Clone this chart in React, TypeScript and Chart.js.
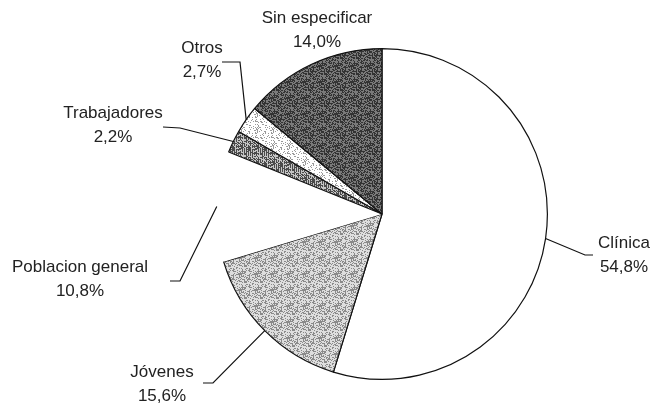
import React, { useEffect, useRef } from "react";
import { Chart, registerables } from "chart.js";

Chart.register(...registerables);

const categories = ["Clínica", "Jóvenes", "Poblacion general", "Trabajadores", "Otros", "Sin especificar"];
const values = [54.8, 15.6, 10.8, 2.2, 2.7, 14.0];
const valueLabels = ["54,8%", "15,6%", "10,8%", "2,2%", "2,7%", "14,0%"];

// label layout: text centre x, first line y, optional elbow + end of leader line
const labelLayout = [
  { tx: 624, ty: 243, elbow: [585, 255], end: [593, 255] },
  { tx: 162, ty: 372, elbow: [213, 383], end: [203, 383] },
  { tx: 80, ty: 267, elbow: [180, 281], end: [170, 281] },
  { tx: 113, ty: 113, elbow: [180, 128], end: [163, 127] },
  { tx: 202, ty: 48, elbow: [240, 62], end: [222, 62] },
  { tx: 317, ty: 18, elbow: null, end: null },
];

function hash(x: number, y: number) {
  let h = (x * 374761393 + y * 668265263) | 0;
  h = (h ^ (h >>> 13)) * 1274126177;
  h = h ^ (h >>> 16);
  return ((h >>> 0) % 1000) / 1000;
}

function makeNoise(size: number, light: string, dark: string, density: number, stripe = 0) {
  const c = document.createElement("canvas");
  c.width = size;
  c.height = size;
  const ctx = c.getContext("2d")!;
  ctx.fillStyle = light;
  ctx.fillRect(0, 0, size, size);
  ctx.fillStyle = dark;
  for (let y = 0; y < size; y++)
    for (let x = 0; x < size; x++) {
      let d = density;
      if (stripe) d = x % stripe === 0 ? 0.85 : density;
      if (hash(x, y) < d) ctx.fillRect(x, y, 1, 1);
    }
  return ctx.createPattern(c, "repeat")!;
}

export default function App() {
  const ref = useRef<HTMLCanvasElement>(null);
  useEffect(() => {
    document.body.style.margin = "0";
    const canvas = ref.current!;
    const fills: any[] = [
      "#ffffff",
      makeNoise(16, "#dedede", "#8a8a8a", 0.4),
      "#ffffff",
      makeNoise(16, "#c4c4c4", "#4a4a4a", 0.3, 2),
      makeNoise(16, "#ffffff", "#9a9a9a", 0.22),
      makeNoise(16, "#7a7a7a", "#333333", 0.5),
    ];
    const labelPlugin = {
      id: "pieLabels",
      afterDraw(chart: any) {
        const ctx = chart.ctx as CanvasRenderingContext2D;
        const meta = chart.getDatasetMeta(0);
        ctx.save();
        ctx.font = '17px "Liberation Sans", Arial, sans-serif';
        ctx.fillStyle = "#222";
        ctx.textAlign = "center";
        ctx.textBaseline = "middle";
        ctx.strokeStyle = "#111";
        ctx.lineWidth = 1.2;
        categories.forEach((cat, i) => {
          const L = labelLayout[i];
          ctx.fillText(cat, L.tx, L.ty);
          ctx.fillText(valueLabels[i], L.tx, L.ty + 24);
          if (L.elbow && L.end) {
            const arc = meta.data[i];
            const mid = (arc.startAngle + arc.endAngle) / 2;
            const r = arc.outerRadius;
            const px = arc.x + Math.cos(mid) * r;
            const py = arc.y + Math.sin(mid) * r;
            ctx.beginPath();
            ctx.moveTo(px, py);
            ctx.lineTo(L.elbow[0], L.elbow[1]);
            ctx.lineTo(L.end[0], L.end[1]);
            ctx.stroke();
          }
        });
        ctx.restore();
      },
    };
    const chart = new Chart(canvas, {
      type: "pie",
      data: {
        labels: categories,
        datasets: [
          {
            data: values,
            backgroundColor: fills,
            borderColor: "#111111",
            borderWidth: [1.2, 1.2, 0, 1.2, 1.2, 1.2],
          },
        ],
      },
      options: {
        responsive: false,
        animation: false,
        layout: { padding: { left: 216, right: 104, top: 48, bottom: 24 } },
        plugins: { legend: { display: false }, tooltip: { enabled: false } },
      },
      plugins: [labelPlugin],
    });
    return () => chart.destroy();
  }, []);
  return (
    <div style={{ width: 652, height: 404, background: "#fff" }}>
      <canvas ref={ref} width={652} height={404} style={{ display: "block" }} />
    </div>
  );
}
